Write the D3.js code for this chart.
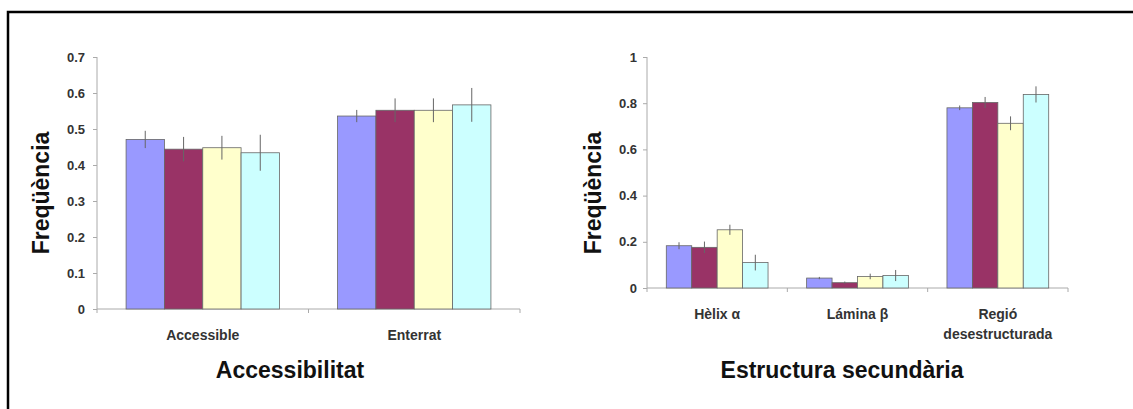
<!DOCTYPE html>
<html>
<head>
<meta charset="utf-8">
<script src="https://cdn.jsdelivr.net/npm/d3@7"></script>
<style>
  body { margin: 0; background: #fff; }
  text { font-family: "Liberation Sans", Arial, sans-serif; }
</style>
</head>
<body>
<div id="chart"></div>
<script>
const width = 1133;
const height = 409;

// colours of the four series (same order in both panels)
const colors = ["#9999ff", "#993366", "#ffffcc", "#ccffff"];

// left panel: accessibility
const accCategories = ["Accessible", "Enterrat"];
const accValues = [
  [0.471, 0.444, 0.448, 0.434],
  [0.536, 0.552, 0.552, 0.567]
];
const accErrors = [
  [0.024, 0.034, 0.033, 0.050],
  [0.017, 0.033, 0.033, 0.047]
];
const accTicks = [0, 0.1, 0.2, 0.3, 0.4, 0.5, 0.6, 0.7];

// right panel: secondary structure
const ssCategories = ["Hèlix α", "Lámina β", "Regió desestructurada"];
const ssValues = [
  [0.183, 0.176, 0.252, 0.110],
  [0.043, 0.023, 0.050, 0.054],
  [0.780, 0.803, 0.713, 0.838]
];
const ssErrors = [
  [0.015, 0.025, 0.022, 0.034],
  [0.005, 0.005, 0.012, 0.024],
  [0.010, 0.024, 0.030, 0.035]
];
const ssTicks = [0, 0.2, 0.4, 0.6, 0.8, 1];

const svg = d3.select("#chart")
  .append("svg")
  .attr("width", width)
  .attr("height", height);

// frame (only top and left edges are visible)
svg.append("path")
  .attr("d", `M8,${height} L8,12 L${width},12`)
  .attr("fill", "none")
  .attr("stroke", "#000")
  .attr("stroke-width", 2.5);

function drawPanel(opt) {
  const g = svg.append("g");

  const x = d3.scaleBand()
    .domain(opt.categories)
    .range([opt.left, opt.right])
    .paddingInner(0.275)
    .paddingOuter(0.1375);

  const y = d3.scaleLinear()
    .domain([0, opt.max])
    .range([opt.bottom, opt.top]);

  const xs = d3.scaleBand()
    .domain(d3.range(4))
    .range([0, x.bandwidth()]);

  // y axis
  const yAxis = g.append("g")
    .attr("transform", `translate(${opt.left},0)`)
    .call(d3.axisLeft(y).tickValues(opt.ticks).tickSize(4).tickPadding(opt.tickPad)
      .tickFormat(d => d === 1 ? "1" : d3.format("")(d)));
  yAxis.select(".domain").attr("stroke", "#aaa").attr("d", `M0,${opt.top}V${opt.bottom}`);
  yAxis.selectAll(".tick line").attr("stroke", "#aaa");
  yAxis.selectAll(".tick text")
    .attr("font-size", 13)
    .attr("font-weight", "bold")
    .attr("fill", "#333");

  // x axis line with category separators
  const step = (opt.right - opt.left) / opt.categories.length;
  g.append("line")
    .attr("x1", opt.left).attr("x2", opt.right)
    .attr("y1", opt.bottom).attr("y2", opt.bottom)
    .attr("stroke", "#aaa");
  g.selectAll(".sep")
    .data(d3.range(opt.categories.length + 1))
    .enter()
    .append("line")
    .attr("x1", i => opt.left + i * step)
    .attr("x2", i => opt.left + i * step)
    .attr("y1", opt.bottom)
    .attr("y2", opt.bottom + 4)
    .attr("stroke", "#aaa");

  // bars
  const groups = g.selectAll(".grp")
    .data(opt.categories)
    .enter()
    .append("g")
    .attr("transform", c => `translate(${x(c)},0)`);

  groups.each(function (c, ci) {
    const grp = d3.select(this);
    const vals = opt.values[ci];
    const errs = opt.errors[ci];

    grp.selectAll("rect")
      .data(vals)
      .enter()
      .append("rect")
      .attr("x", (d, i) => xs(i))
      .attr("y", d => y(d))
      .attr("width", xs.bandwidth())
      .attr("height", d => y(0) - y(d))
      .attr("fill", (d, i) => colors[i])
      .attr("stroke", "#666")
      .attr("stroke-width", 0.8);

    // error bars
    grp.selectAll(".err")
      .data(vals)
      .enter()
      .append("line")
      .attr("x1", (d, i) => xs(i) + xs.bandwidth() / 2)
      .attr("x2", (d, i) => xs(i) + xs.bandwidth() / 2)
      .attr("y1", (d, i) => y(d + errs[i]))
      .attr("y2", (d, i) => y(d - errs[i]))
      .attr("stroke", "#666")
      .attr("stroke-width", 1);
  });

  // category labels
  const lab = g.selectAll(".cat")
    .data(opt.categories)
    .enter()
    .append("text")
    .attr("x", c => x(c) + x.bandwidth() / 2)
    .attr("y", opt.catY)
    .attr("text-anchor", "middle")
    .attr("font-size", 14)
    .attr("font-weight", "bold")
    .attr("fill", "#333");
  lab.each(function (c) {
    const words = c === "Regió desestructurada" ? ["Regió", "desestructurada"] : [c];
    d3.select(this).selectAll("tspan")
      .data(words)
      .enter()
      .append("tspan")
      .attr("x", x(c) + x.bandwidth() / 2)
      .attr("dy", (w, i) => i === 0 ? 0 : 20)
      .text(w => w);
  });

  // axis titles
  g.append("text")
    .attr("x", opt.titleX)
    .attr("y", 378)
    .attr("text-anchor", "middle")
    .attr("font-size", 23)
    .attr("font-weight", "bold")
    .attr("fill", "#111")
    .text(opt.title);

  g.append("text")
    .attr("transform", "rotate(-90)")
    .attr("x", -193)
    .attr("y", opt.yTitleX)
    .attr("text-anchor", "middle")
    .attr("font-size", 23)
    .attr("font-weight", "bold")
    .attr("fill", "#111")
    .text("Freqüència");
}

drawPanel({
  categories: accCategories,
  values: accValues,
  errors: accErrors,
  ticks: accTicks,
  max: 0.7,
  left: 97, right: 520, top: 57, bottom: 309,
  tickPad: 8,
  catY: 340,
  title: "Accessibilitat",
  titleX: 290,
  yTitleX: 49
});

drawPanel({
  categories: ssCategories,
  values: ssValues,
  errors: ssErrors,
  ticks: ssTicks,
  max: 1,
  left: 647, right: 1068, top: 57, bottom: 288,
  tickPad: 6,
  catY: 319,
  title: "Estructura secundària",
  titleX: 842,
  yTitleX: 601
});
</script>
</body>
</html>
